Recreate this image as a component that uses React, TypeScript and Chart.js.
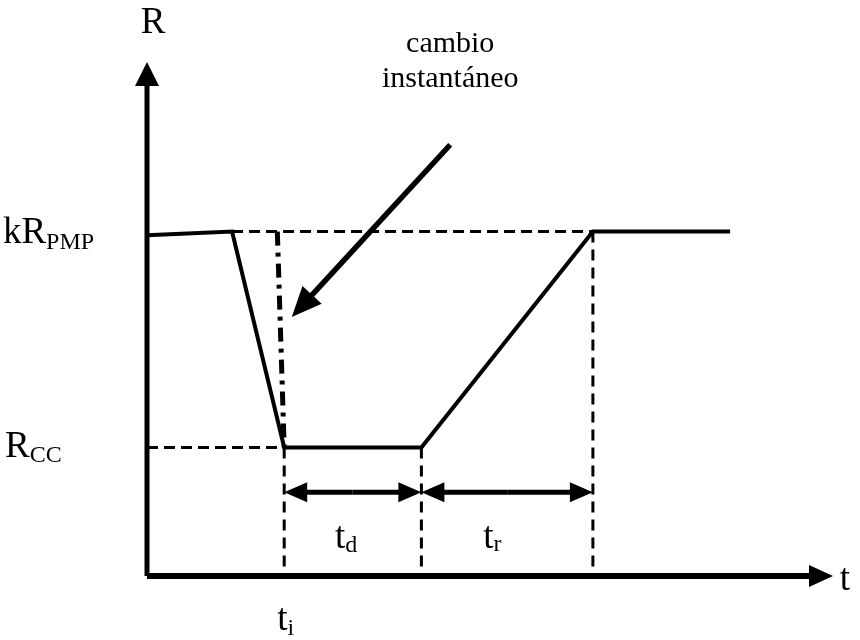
import React, { useEffect, useRef } from "react";
import { Chart, registerables } from "chart.js";

Chart.register(...registerables);

// Time marks (t axis units)
const tStart = 0;
const tDropStart = 1.24;
const tInstant = 1.9;
const tI = 2.0;
const tD_end = 4.0;
const tR_end = 6.5;
const tEnd = 8.5;

// Resistance levels
const kRpmp = 6.7;
const rStartLevel = 6.63;
const rCC = 2.5;

// Main resistance curve
const curveX = [tStart, tDropStart, tI, tD_end, tR_end, tEnd];
const curveY = [rStartLevel, kRpmp, rCC, rCC, kRpmp, kRpmp];

// Axes extents
const axisMax = 10;
const arrowY = 1.63;

// Arrows: [x0, y0, x1(tip), y1(tip), headLength, headHalfWidth, lineWidth]
const arrows: number[][] = [
  [0, 0, 0, axisMax, 24, 12, 5],
  [0, 0, axisMax, 0, 24, 11, 6],
  [4.42, 8.39, 2.11, 5.04, 30, 13, 5.5],
  [3.0, arrowY, tI, arrowY, 23, 10, 5],
  [3.0, arrowY, tD_end, arrowY, 23, 10, 5],
  [5.25, arrowY, tD_end, arrowY, 23, 10, 5],
  [5.25, arrowY, tR_end, arrowY, 23, 10, 5],
];

// Text labels: [x, y, main, sub, fontSize, subSize, subDrop, align]
const textLabels: (string | number)[][] = [
  [-0.09, 10.56, "R", "", 37, 0, 0, "left"],
  [10.1, -0.27, "t", "", 37, 0, 0, "left"],
  [-2.1, 6.48, "kR", "PMP", 37, 24, 6, "left"],
  [-2.07, 2.32, "R", "CC", 37, 24, 5, "left"],
  [1.9, -1.05, "t", "i", 37, 24, 5, "left"],
  [2.74, 0.545, "t", "d", 37, 24, 4, "left"],
  [4.9, 0.545, "t", "r", 37, 24, 3, "left"],
  [4.42, 10.19, "cambio", "", 30, 0, 0, "center"],
  [4.42, 9.51, "instantáneo", "", 30, 0, 0, "center"],
];

const FONT = '"Liberation Serif", "Times New Roman", serif';

const pts = (xs: number[], ys: number[]) => xs.map((x, i) => ({ x, y: ys[i] }));

const overlayPlugin = {
  id: "overlay",
  afterDatasetsDraw(chart: any) {
    const ctx = chart.ctx;
    const xs = chart.scales.x;
    const ys = chart.scales.y;
    ctx.save();
    ctx.fillStyle = "#000";
    ctx.strokeStyle = "#000";
    for (const a of arrows) {
      const [x0, y0, x1, y1, hl, hw, lw] = a;
      const px0 = xs.getPixelForValue(x0);
      const py0 = ys.getPixelForValue(y0);
      const px1 = xs.getPixelForValue(x1);
      const py1 = ys.getPixelForValue(y1);
      const dx = px1 - px0;
      const dy = py1 - py0;
      const len = Math.hypot(dx, dy);
      const ux = dx / len;
      const uy = dy / len;
      const bx = px1 - ux * hl;
      const by = py1 - uy * hl;
      ctx.lineWidth = lw;
      ctx.lineCap = "butt";
      ctx.beginPath();
      ctx.moveTo(px0, py0);
      ctx.lineTo(bx + ux * 2, by + uy * 2);
      ctx.stroke();
      ctx.beginPath();
      ctx.moveTo(px1, py1);
      ctx.lineTo(bx - uy * hw, by + ux * hw);
      ctx.lineTo(bx + uy * hw, by - ux * hw);
      ctx.closePath();
      ctx.fill();
    }
    ctx.textBaseline = "alphabetic";
    for (const l of textLabels) {
      const [x, y, main, sub, fs, ss, drop, align] = l as [number, number, string, string, number, number, number, string];
      const px = xs.getPixelForValue(x);
      const py = ys.getPixelForValue(y);
      ctx.font = `${fs}px ${FONT}`;
      ctx.textAlign = align === "center" ? "center" : "left";
      ctx.fillText(main, px, py);
      if (sub) {
        const w = ctx.measureText(main).width;
        ctx.font = `${ss}px ${FONT}`;
        ctx.textAlign = "left";
        ctx.fillText(sub, px + w, py + drop);
      }
    }
    ctx.restore();
  },
};

export default function App() {
  const ref = useRef<HTMLCanvasElement | null>(null);
  useEffect(() => {
    if (!ref.current) return;
    const base = {
      showLine: true,
      pointRadius: 0,
      borderColor: "#000",
      backgroundColor: "#000",
      fill: false,
      clip: false as any,
      tension: 0,
    };
    const chart = new Chart(ref.current, {
      type: "scatter",
      data: {
        datasets: [
          { ...base, data: pts([tDropStart, tR_end], [kRpmp, kRpmp]), borderWidth: 3, borderDash: [11, 6] },
          { ...base, data: pts([0, tI], [rCC, rCC]), borderWidth: 3, borderDash: [11, 6] },
          { ...base, data: pts([tI, tI], [rCC, 0]), borderWidth: 3, borderDash: [11, 7] },
          { ...base, data: pts([tD_end, tD_end], [rCC, 0]), borderWidth: 3, borderDash: [11, 7] },
          { ...base, data: pts([tR_end, tR_end], [kRpmp, 0]), borderWidth: 3, borderDash: [11, 7] },
          { ...base, data: pts([tInstant, tI], [kRpmp, rCC]), borderWidth: 5, borderDash: [14, 7, 4, 7] },
          { ...base, data: pts(curveX, curveY), borderWidth: 4, borderJoinStyle: "miter" as any },
        ],
      },
      options: {
        animation: false,
        responsive: true,
        maintainAspectRatio: false,
        layout: { padding: { left: 147, right: 27, top: 62, bottom: 64 } },
        plugins: { legend: { display: false }, tooltip: { enabled: false } },
        scales: {
          x: { type: "linear", min: 0, max: axisMax, display: false },
          y: { type: "linear", min: 0, max: axisMax, display: false },
        },
      },
      plugins: [overlayPlugin],
    });
    return () => chart.destroy();
  }, []);
  return (
    <div style={{ position: "fixed", left: 0, top: 0, width: 860, height: 640, background: "#fff" }}>
      <canvas ref={ref} />
    </div>
  );
}
